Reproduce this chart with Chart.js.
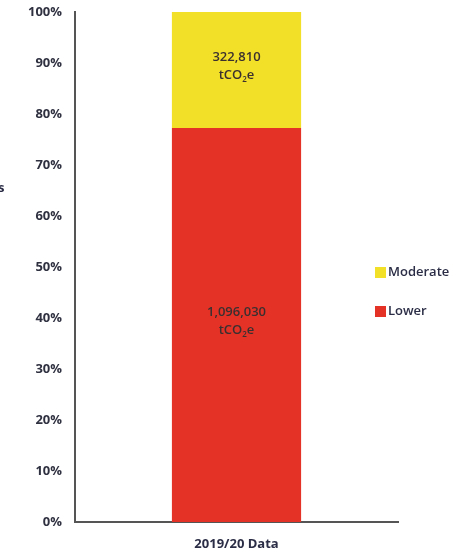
<!DOCTYPE html>
<html>
<head>
<meta charset="utf-8">
<script src="https://cdn.jsdelivr.net/npm/chart.js@4"></script>
<style>
  html, body { margin: 0; padding: 0; background: #fff; }
  #wrap { width: 470px; height: 552px; }
</style>
</head>
<body>
<div id="wrap"><canvas id="risk-chart" width="470" height="552"></canvas></div>
<script>
// data
const categories = ['2019/20 Data'];
const lowerValues = [1096030];     // tCO2e
const moderateValues = [322810];   // tCO2e
const yTicks = [0, 10, 20, 30, 40, 50, 60, 70, 80, 90, 100];

const totals = categories.map((c, i) => lowerValues[i] + moderateValues[i]);
const toPct = (arr) => arr.map((v, i) => v / totals[i] * 100);

const FONT = '"Open Sans", "Liberation Sans", sans-serif';

// numbers + tCO2e inside each segment
const barLabels = {
    id: 'barLabels',
    afterDatasetsDraw(chart) {
        const ctx = chart.ctx;
        chart.data.datasets.forEach((ds, di) => {
            const meta = chart.getDatasetMeta(di);
            meta.data.forEach((bar, i) => {
                const raw = ds.raw[i];
                const cy = (bar.y + bar.base) / 2 - 4;
                ctx.save();
                ctx.fillStyle = '#3b3030';
                ctx.textAlign = 'center';
                ctx.textBaseline = 'middle';
                ctx.font = '600 13px ' + FONT;
                ctx.fillText(raw.toLocaleString('en-US'), bar.x, cy - 9);
                // tCO2e with a subscript 2
                const a = 'tCO', b = '2', c = 'e';
                const wa = ctx.measureText(a).width;
                const wc = ctx.measureText(c).width;
                ctx.font = '600 8px ' + FONT;
                const wb = ctx.measureText(b).width;
                let x = bar.x - (wa + wb + wc) / 2;
                ctx.textAlign = 'left';
                ctx.font = '600 13px ' + FONT;
                ctx.fillText(a, x, cy + 9);
                ctx.font = '600 8px ' + FONT;
                ctx.fillText(b, x + wa, cy + 14);
                ctx.font = '600 13px ' + FONT;
                ctx.fillText(c, x + wa + wb, cy + 9);
                ctx.restore();
            });
        });
    }
};

// legend on the right, Moderate above Lower
const sideLegend = {
    id: 'sideLegend',
    afterDraw(chart) {
        const ctx = chart.ctx;
        const items = chart.data.datasets.slice().reverse();
        ctx.save();
        ctx.font = '600 13px ' + FONT;
        ctx.textBaseline = 'middle';
        ctx.textAlign = 'left';
        items.forEach((ds, k) => {
            const y = 272 + k * 39;
            ctx.fillStyle = ds.backgroundColor;
            ctx.fillRect(375, y - 5, 11, 11);
            ctx.fillStyle = '#2a2d45';
            ctx.fillText(ds.label, 388, y);
        });
        // leftover of the cut-off axis title
        ctx.font = 'bold 13px ' + FONT;
        ctx.fillText('s', -2, 188);
        ctx.restore();
    }
};

const config = {
    type: 'bar',
    data: {
        labels: categories,
        datasets: [{
            label: 'Lower',
            data: toPct(lowerValues),
            raw: lowerValues,
            backgroundColor: '#e43227',
            barPercentage: 0.4,
            categoryPercentage: 1
        }, {
            label: 'Moderate',
            data: toPct(moderateValues),
            raw: moderateValues,
            backgroundColor: '#f1e027',
            barPercentage: 0.4,
            categoryPercentage: 1
        }]
    },
    options: {
        responsive: false,
        animation: false,
        layout: { padding: { left: 0, right: 72, top: 12, bottom: 0 } },
        plugins: {
            legend: { display: false },
            tooltip: { enabled: false }
        },
        scales: {
            x: {
                stacked: true,
                grid: { display: false },
                border: { display: true, color: '#555', width: 2 },
                ticks: {
                    color: '#2a2d45',
                    padding: 6,
                    font: { family: FONT, size: 13, weight: 'bold' }
                },
                afterFit: (scale) => { scale.height = 30; scale.paddingLeft = 0; scale.paddingRight = 0; }
            },
            y: {
                stacked: true,
                min: 0,
                max: 100,
                grid: { display: false },
                border: { display: true, color: '#555', width: 2 },
                afterBuildTicks: (scale) => { scale.ticks = yTicks.map(v => ({ value: v })); },
                ticks: {
                    color: '#2f3040',
                    padding: 5,
                    font: { family: FONT, size: 13, weight: 'bold' },
                    callback: (v) => v + '%'
                },
                afterFit: (scale) => { scale.width = 75; scale.paddingTop = 0; scale.paddingBottom = 0; }
            }
        }
    },
    plugins: [barLabels, sideLegend]
};

const ctx = document.getElementById('risk-chart').getContext('2d');
new Chart(ctx, config);
</script>
</body>
</html>
